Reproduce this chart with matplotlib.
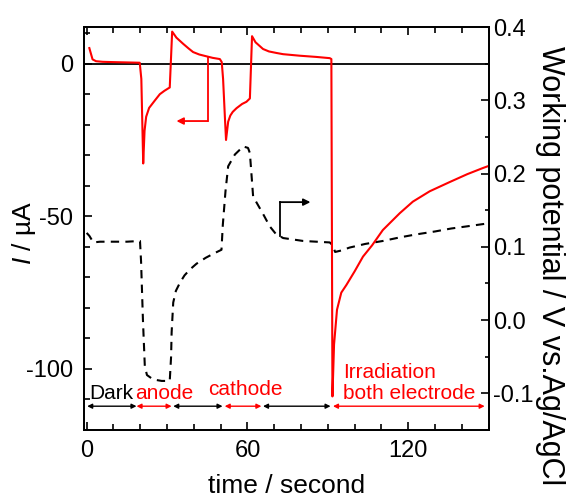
import matplotlib
matplotlib.use('Agg')
import matplotlib.pyplot as plt
from matplotlib.ticker import MultipleLocator, FormatStrFormatter

plt.rcParams['font.family'] = ['Liberation Sans', 'DejaVu Sans']
plt.rcParams['axes.unicode_minus'] = False
plt.rcParams['mathtext.fontset'] = 'custom'
plt.rcParams['mathtext.rm'] = 'Liberation Sans'
plt.rcParams['mathtext.it'] = 'Liberation Sans:italic'

# photocurrent (left axis)
t_cur = [1.0, 2.2, 3.5, 6, 10, 15, 19.8, 20.4, 21.1, 21.6, 22.2, 23.3, 25.5, 27.3, 29.0, 31.0,
         31.9, 33.5, 36, 38, 39.7, 42, 44.7, 47, 49.7, 50.4, 50.9, 51.6, 52.0, 52.8, 53.6, 54.5,
         55.9, 58, 59.6, 60.9, 61.7, 63, 65.8, 68, 70.8, 73.3, 79.5, 85.7, 90.7, 91.3,
         91.7, 92.3, 93.4, 95, 96.9, 100, 103.1, 106.5, 110.5, 116.8, 121.7, 128, 135.4, 142, 147.8, 150]
current = [5.1, 1.4, 0.8, 0.6, 0.5, 0.4, 0.3, -5, -32.7, -22, -17.4, -14.5, -12, -10, -8.9, -7.8,
           10.5, 8.5, 6.5, 5.0, 3.8, 3.0, 2.4, 1.9, 1.5, 0.5, -5, -18, -25, -19, -17, -15.8,
           -14.6, -13.2, -12.5, -11.4, 9.0, 7.0, 4.8, 4.0, 3.5, 3.1, 2.6, 2.2, 1.8, 1.5,
           -109, -92, -80.6, -75, -72.5, -68, -63.2, -59.5, -54.5, -49, -45.2, -41.8, -38.8, -36.2, -34.2, -33.5]

# working potential (right axis)
t_pot = [0, 1, 2.5, 5, 10, 15, 19.9, 20.3, 21, 21.7, 22.5, 24.8, 28, 31, 31.5, 31.7, 32.3,
         33.3, 34.8, 36.5, 38.5, 41, 44.4, 47.5, 50.3, 50.8, 51.8, 52.8, 55.3, 58.4, 60.2, 60.9,
         62.1, 63.3, 65.8, 68.3, 70.5, 73.3, 80.8, 90.7, 91.8, 92.7, 95, 98.1, 104, 110.5, 117,
         123, 130, 136, 142, 147.8, 150]
potential = [0.119, 0.115, 0.106, 0.107, 0.107, 0.107, 0.108, 0.08, 0.0, -0.063, -0.075, -0.081, -0.083, -0.083, -0.05, -0.017, 0.024,
             0.04, 0.051, 0.061, 0.069, 0.077, 0.085, 0.091, 0.096, 0.13, 0.176, 0.21, 0.226, 0.237, 0.235, 0.228,
             0.169, 0.161, 0.145, 0.128, 0.118, 0.112, 0.108, 0.106, 0.102, 0.093, 0.095, 0.099, 0.104, 0.108, 0.113,
             0.117, 0.121, 0.125, 0.128, 0.131, 0.132]

# period labels along the bottom
periods = [(0.2, 18.6), (18.6, 31.7), (32.3, 50.7), (51.5, 65.2), (65.8, 91.0), (91.9, 148.5)]
period_colors = ['black', 'red', 'black', 'red', 'black', 'red']
labels = ['Dark', 'anode', 'cathode', 'Irradiation\nboth electrode']
label_x = [0.9, 18.0, 45.3, 95.7]
label_y = [-109.7, -109.7, -108.5, -109.7]
label_colors = ['black', 'red', 'red', 'red']

fig = plt.figure(figsize=(5.74, 5.03), dpi=100)
ax = fig.add_axes([0.1463, 0.1451, 0.7051, 0.8012])
ax2 = ax.twinx()
ax.set_zorder(ax2.get_zorder() + 1)
ax.patch.set_visible(False)

ax.axhline(0, color='black', lw=1.3)
ax.plot(t_cur, current, color='red', lw=1.5)
ax2.plot(t_pot, potential, color='black', lw=1.5, ls=(0, (4, 3)))

# axis pointer arrows
ax.plot([45.1, 45.1], [2.2, -18.8], color='red', lw=1.3)
ax.annotate('', xy=(33.5, -18.8), xytext=(45.1, -18.8),
            arrowprops=dict(arrowstyle='-|>', color='red', lw=1.3, mutation_scale=10, shrinkA=0, shrinkB=0))
ax2.plot([72.1, 72.1], [0.115, 0.161], color='black', lw=1.3)
ax2.annotate('', xy=(83.5, 0.161), xytext=(72.1, 0.161),
             arrowprops=dict(arrowstyle='-|>', color='black', lw=1.3, mutation_scale=10, shrinkA=0, shrinkB=0))

for (a, b), c in zip(periods, period_colors):
    ax.annotate('', xy=(a, -112.2), xytext=(b, -112.2),
                arrowprops=dict(arrowstyle='<|-|>', color=c, lw=1.0, mutation_scale=7, shrinkA=0, shrinkB=0))
for s, x, y, c in zip(labels, label_x, label_y, label_colors):
    ax.text(x, y, s, color=c, fontsize=15, ha='left', va='baseline', linespacing=1.1)

ax.set_xlim(-1, 150)
ax.set_ylim(-120, 12)
ax2.set_ylim(-0.15, 0.4)

ax.xaxis.set_major_locator(MultipleLocator(60))
ax.xaxis.set_minor_locator(MultipleLocator(10))
ax.yaxis.set_major_locator(MultipleLocator(50))
ax.yaxis.set_minor_locator(MultipleLocator(10))
ax2.yaxis.set_major_locator(MultipleLocator(0.1))
ax2.yaxis.set_minor_locator(MultipleLocator(0.05))
ax2.yaxis.set_major_formatter(FormatStrFormatter('%.1f'))

ax.tick_params(which='both', direction='in', top=True, width=1.2, labelsize=17)
ax.tick_params(which='major', length=6)
ax.tick_params(which='minor', length=4)
ax.tick_params(axis='y', pad=8)
ax.tick_params(axis='x', pad=7)
ax2.tick_params(which='both', direction='in', width=1.2, labelsize=17, pad=3)
ax2.tick_params(which='major', length=6)
ax2.tick_params(which='minor', length=3)
for a in (ax, ax2):
    for sp in a.spines.values():
        sp.set_linewidth(1.3)

ax.set_xlabel('time / second', fontsize=19)
ax.xaxis.set_label_coords(0.5, -0.109)
ax.set_ylabel('$I$ / µA', fontsize=19, va='center')
ax.yaxis.set_label_coords(-0.148, 0.49)
ax2.set_ylabel('Working potential / V vs.Ag/AgCl', fontsize=22, rotation=270, va='center')
ax2.yaxis.set_label_coords(1.151, 0.409)

fig.savefig('out.png', dpi=100)
